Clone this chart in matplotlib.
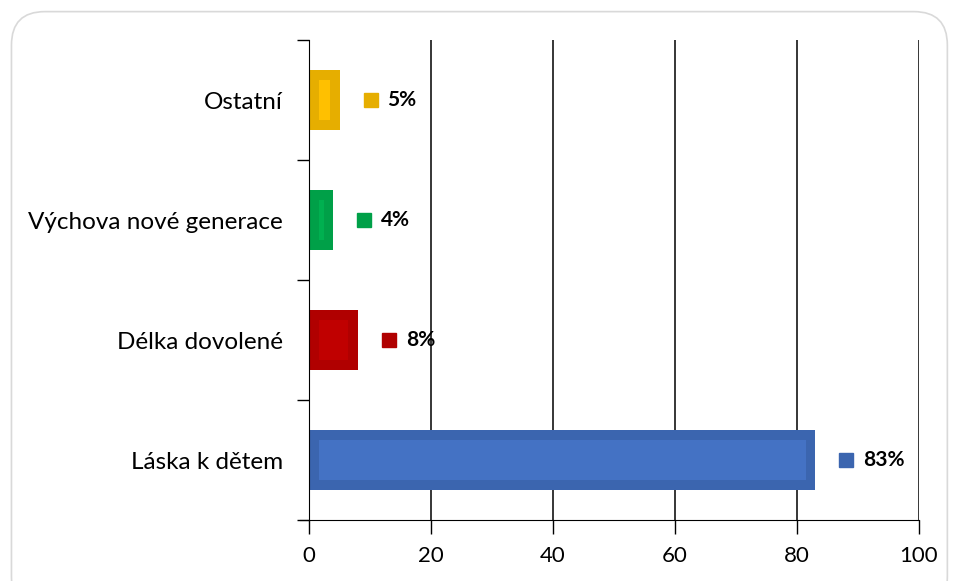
import matplotlib.pyplot as plt
import matplotlib.transforms as mtransforms
from matplotlib.patches import FancyBboxPatch

plt.rcParams['font.family'] = ['Lato', 'DejaVu Sans']

categories = ["Láska k dětem", "Délka dovolené", "Výchova nové generace", "Ostatní"]
values = [83, 8, 4, 5]
labels = ["83%", "8%", "4%", "5%"]
outer_colors = ["#3B65AF", "#B00000", "#00A048", "#E6AE00"]
inner_colors = ["#4472C4", "#C00000", "#00B050", "#FFC000"]

fig = plt.figure(figsize=(9.55, 5.81), dpi=100)
frame = FancyBboxPatch((0.012, -0.05), 0.98, 1.03, boxstyle="round,pad=0,rounding_size=0.035",
                       transform=fig.transFigure, facecolor="white", edgecolor="#d9d9d9",
                       linewidth=1.2, mutation_aspect=955 / 581, zorder=-5)
fig.patches.append(frame)
ax = fig.add_axes([0.3236, 0.105, 0.6387, 0.826])
ax.set_zorder(2)
ax.set_facecolor("none")

y = list(range(len(categories)))
ax.barh(y, values, height=0.5, color=outer_colors, zorder=3)
# lighter inner part of each bar
inset_x = 1.6
inner_w = [max(v - 2 * inset_x, 0) for v in values]
ax.barh(y, inner_w, left=inset_x, height=0.33, color=inner_colors, zorder=4)

# data labels: small square + bold percentage
for yi, v, lab, c in zip(y, values, labels, outer_colors):
    mk = ax.transData + mtransforms.ScaledTranslation(31 / 100, 0, fig.dpi_scale_trans)
    ax.plot([v], [yi], marker="s", markersize=10, color=c, transform=mk, zorder=5, clip_on=False)
    ax.annotate(lab, (v, yi), xytext=(48, 0), textcoords="offset pixels", va="center", ha="left",
                fontsize=15, fontweight="bold", color="black")

ax.set_xlim(0, 100)
ax.set_ylim(-0.5, 3.5)
ax.set_xticks(range(0, 101, 20))
ax.tick_params(axis="x", length=10, width=1, pad=9, labelsize=16, color="black")
ax.set_yticks([-0.5, 0.5, 1.5, 2.5, 3.5])
ax.set_yticklabels([])
ax.tick_params(axis="y", which="major", length=9, width=1, color="black")
ax.set_yticks(y, minor=True)
ax.set_yticklabels(categories, minor=True)
ax.tick_params(axis="y", which="minor", length=0, pad=19, labelsize=17.5)

ax.grid(axis="x", color="black", linewidth=1.1, zorder=1)
for s in ["top", "right"]:
    ax.spines[s].set_visible(False)
ax.spines["left"].set_color("black")
ax.spines["bottom"].set_color("black")
ax.spines["bottom"].set_bounds(-1.5, 100)
ax.spines["left"].set_zorder(6)

fig.savefig("out.png", dpi=100)
